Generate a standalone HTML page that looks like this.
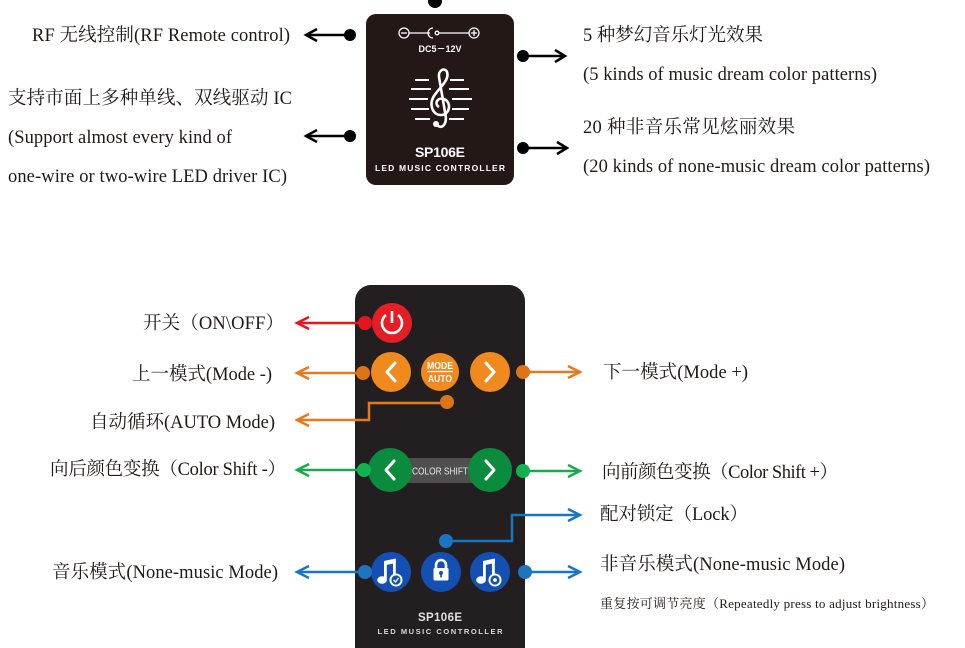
<!DOCTYPE html>
<html><head><meta charset="utf-8">
<style>
html,body{margin:0;padding:0;background:#fff;width:965px;height:648px;overflow:hidden;}
svg{display:block;}
.t{font-family:"Liberation Serif","Noto Serif CJK SC",serif;font-size:18.5px;fill:#1e1a18;}
.s{font-family:"Liberation Sans","Noto Sans CJK SC",sans-serif;font-weight:bold;fill:#fff;}
</style></head>
<body>
<svg width="965" height="648" viewBox="0 0 965 648" xmlns="http://www.w3.org/2000/svg">
<rect width="965" height="648" fill="#fff"/>

<!-- ===== TOP CONTROLLER BOX ===== -->
<circle cx="435" cy="1" r="7" fill="#000"/>
<rect x="366" y="14" width="148" height="171" rx="10" fill="#231815"/>
<g stroke="#fff" stroke-width="1.3" fill="none">
  <circle cx="404" cy="33" r="5"/><line x1="401" y1="33" x2="407" y2="33"/>
  <line x1="409" y1="33" x2="430" y2="33"/>
  <path d="M433 28 A5 5 0 0 0 433 38"/>
  <circle cx="437" cy="33" r="1.8"/>
  <line x1="439" y1="33" x2="469" y2="33"/>
  <circle cx="474" cy="33" r="5"/><line x1="471" y1="33" x2="477" y2="33"/><line x1="474" y1="30" x2="474" y2="36"/>
</g>
<text class="s" x="440" y="52" font-size="9" text-anchor="middle">DC5－12V</text>
<g stroke="#fff" stroke-width="2">
  <line x1="415" y1="80" x2="429" y2="80"/><line x1="450" y1="80" x2="464" y2="80"/>
  <line x1="411" y1="89" x2="431" y2="89"/><line x1="449" y1="89" x2="469" y2="89"/>
  <line x1="409" y1="99" x2="428" y2="99"/><line x1="452" y1="99" x2="472" y2="99"/>
  <line x1="411" y1="109" x2="429" y2="109"/><line x1="452" y1="109" x2="469" y2="109"/>
  <line x1="415" y1="119" x2="430" y2="119"/><line x1="449" y1="119" x2="464" y2="119"/>
</g>
<path d="M437 125 C442 130 448 124 445 112 L439 77 C438 70 445 67 447 72 C450 80 439 88 434 96 C429 104 432 115 441 115 C450 115 452 102 444 99 C437 97 434 104 439 107" stroke="#fff" stroke-width="2.6" fill="none"/>
<circle cx="436" cy="124" r="3" fill="#fff"/>
<text class="s" x="440" y="157" font-size="14" text-anchor="middle" textLength="50">SP106E</text>
<text class="s" x="440" y="171" font-size="8.5" text-anchor="middle" textLength="130" lengthAdjust="spacing">LED  MUSIC CONTROLLER</text>

<g stroke="#000" stroke-width="2.5" fill="none">
  <line x1="307" y1="35" x2="350" y2="35"/><polyline points="317,29 306,35 317,41"/>
  <line x1="307" y1="136" x2="350" y2="136"/><polyline points="317,130 306,136 317,142"/>
  <line x1="523" y1="56" x2="564" y2="56"/><polyline points="555,50 565,56 555,62"/>
  <line x1="523" y1="148" x2="566" y2="148"/><polyline points="557,142 567,148 557,154"/>
</g>
<g fill="#000">
  <circle cx="350" cy="35" r="6"/><circle cx="350" cy="136" r="6"/>
  <circle cx="523" cy="56" r="6"/><circle cx="523" cy="148" r="6"/>
</g>

<text class="t" x="32" y="41" textLength="258">RF 无线控制(RF Remote control)</text>
<text class="t" x="8" y="104" textLength="284">支持市面上多种单线、双线驱动 IC</text>
<text class="t" x="8" y="143" textLength="224">(Support almost every kind of</text>
<text class="t" x="8" y="182" textLength="279">one-wire or two-wire LED driver IC)</text>
<text class="t" x="583" y="41" textLength="180">5 种梦幻音乐灯光效果</text>
<text class="t" x="583" y="80" textLength="294">(5 kinds of music dream color patterns)</text>
<text class="t" x="583" y="133" textLength="212">20 种非音乐常见炫丽效果</text>
<text class="t" x="583" y="172" textLength="347">(20 kinds of none-music dream color patterns)</text>

<!-- ===== REMOTE ===== -->
<path d="M355 648 V301 A16 16 0 0 1 371 285 H509 A16 16 0 0 1 525 301 V648 Z" fill="#231f20"/>

<line x1="298" y1="323" x2="364" y2="323" stroke="#e8141b" stroke-width="2.5"/>
<polyline points="309,317 297,323 309,329" stroke="#e8141b" stroke-width="2.5" fill="none"/>
<circle cx="392" cy="323" r="20" fill="#e31e24"/>
<circle cx="365" cy="323" r="7" fill="#e8141b"/>
<path d="M386 315 A10 10 0 1 0 398 315" stroke="#fff" stroke-width="2.6" fill="none"/>
<line x1="392" y1="311" x2="392" y2="323" stroke="#fff" stroke-width="2.6"/>

<g stroke="#e8781c" stroke-width="2.5" fill="none">
  <line x1="298" y1="373" x2="363" y2="373"/><polyline points="309,367 297,373 309,379"/>
  <polyline points="447,403 369,403 369,420 298,420"/><polyline points="309,414 297,420 309,426"/>
  <line x1="523" y1="372" x2="579" y2="372"/><polyline points="568,366 580,372 568,378"/>
</g>
<circle cx="391" cy="372" r="20" fill="#f0891e"/>
<circle cx="440" cy="372" r="19" fill="#f0891e"/>
<circle cx="490" cy="372" r="20" fill="#f0891e"/>
<circle cx="363" cy="373" r="7" fill="#df7416"/>
<circle cx="523" cy="372" r="7" fill="#df7416"/>
<circle cx="447" cy="402" r="7" fill="#df7416"/>
<g stroke="#fff" stroke-width="3" fill="none" stroke-linecap="round" stroke-linejoin="round">
  <polyline points="395,363 387,372 395,381"/>
  <polyline points="486,363 494,372 486,381"/>
</g>
<text class="s" x="440" y="369" font-size="10" text-anchor="middle" textLength="26" lengthAdjust="spacingAndGlyphs">MODE</text>
<line x1="427" y1="371.5" x2="453" y2="371.5" stroke="#fff" stroke-width="1.2"/>
<text class="s" x="440" y="382" font-size="10" text-anchor="middle" textLength="24" lengthAdjust="spacingAndGlyphs">AUTO</text>

<g stroke="#19aa4b" stroke-width="2.5" fill="none">
  <line x1="298" y1="470" x2="364" y2="470"/><polyline points="309,464 297,470 309,476"/>
  <line x1="523" y1="471" x2="579" y2="471"/><polyline points="568,465 580,471 568,477"/>
</g>
<rect x="405" y="458" width="70" height="25" fill="#4f4f4f"/>
<text x="440" y="474.5" font-family="Liberation Sans Narrow,Liberation Sans,sans-serif" font-size="10" fill="#e6e6e6" text-anchor="middle" textLength="56" lengthAdjust="spacingAndGlyphs">COLOR SHIFT</text>
<circle cx="390" cy="470" r="22" fill="#0a8b3d"/>
<circle cx="490" cy="470" r="22" fill="#0a8b3d"/>
<circle cx="364" cy="470" r="7" fill="#10b350"/>
<circle cx="523" cy="471" r="7" fill="#10b350"/>
<g stroke="#fff" stroke-width="3" fill="none" stroke-linecap="round" stroke-linejoin="round">
  <polyline points="394,461 386,470 394,479"/>
  <polyline points="486,461 494,470 486,479"/>
</g>

<g stroke="#1877c2" stroke-width="2.5" fill="none">
  <line x1="298" y1="572" x2="365" y2="572"/><polyline points="309,566 297,572 309,578"/>
  <polyline points="446,541 512,541 512,515 579,515"/><polyline points="568,509 580,515 568,521"/>
  <line x1="525" y1="572" x2="579" y2="572"/><polyline points="568,566 580,572 568,578"/>
</g>
<circle cx="391" cy="572" r="20" fill="#1450b4"/>
<circle cx="441" cy="572" r="20" fill="#1450b4"/>
<circle cx="490" cy="572" r="20" fill="#1450b4"/>
<circle cx="365" cy="572" r="7" fill="#1b75c0"/>
<circle cx="525" cy="572" r="7" fill="#1b75c0"/>
<circle cx="446" cy="541" r="7" fill="#1b75c0"/>
<g fill="#fff">
  <rect x="384" y="561" width="2.8" height="19"/>
  <rect x="393" y="559" width="2.8" height="16"/>
  <polygon points="384,561 395.8,558.5 395.8,563 384,565.5"/>
  <ellipse cx="382" cy="580" rx="4.8" ry="3.8"/>
</g>
<circle cx="396" cy="580" r="6.5" fill="#fff"/>
<circle cx="396" cy="580" r="4.6" fill="#1450b4"/>
<polyline points="393.5,580 395.5,582 398.5,578" stroke="#fff" stroke-width="1.3" fill="none"/>
<path d="M436 569 V565 A5 5 0 0 1 446 565 V569" stroke="#fff" stroke-width="2.6" fill="none"/>
<rect x="433.5" y="568" width="15" height="12.5" rx="1.5" fill="#fff"/>
<circle cx="441" cy="573" r="2" fill="#1450b4"/>
<rect x="440.2" y="573" width="1.6" height="4.5" fill="#1450b4"/>
<g fill="#fff">
  <rect x="483" y="561" width="2.8" height="19"/>
  <rect x="492" y="559" width="2.8" height="16"/>
  <polygon points="483,561 494.8,558.5 494.8,563 483,565.5"/>
  <ellipse cx="481" cy="580" rx="4.8" ry="3.8"/>
</g>
<circle cx="495" cy="580" r="6.5" fill="#fff"/>
<circle cx="495" cy="580" r="4.6" fill="#1450b4"/>
<circle cx="495" cy="580" r="1.9" fill="#fff"/>

<text x="440" y="621" font-family="Liberation Sans,sans-serif" font-weight="bold" font-size="11.5" fill="#e0e0e0" text-anchor="middle" textLength="44">SP106E</text>
<text x="440" y="634" font-family="Liberation Sans,sans-serif" font-weight="bold" font-size="7.5" fill="#d8d8d8" text-anchor="middle" textLength="125" lengthAdjust="spacing">LED MUSIC CONTROLLER</text>

<text class="t" x="143" y="329" textLength="141">开关（ON\OFF）</text>
<text class="t" x="132" y="380" textLength="140">上一模式(Mode -)</text>
<text class="t" x="90" y="428" textLength="185">自动循环(AUTO Mode)</text>
<text class="t" x="50" y="475" textLength="236">向后颜色变换（Color Shift -）</text>
<text class="t" x="52" y="578" textLength="226">音乐模式(None-music Mode)</text>
<text class="t" x="603" y="378" textLength="145">下一模式(Mode +)</text>
<text class="t" x="602" y="478" textLength="236">向前颜色变换（Color Shift +）</text>
<text class="t" x="600" y="520" textLength="148">配对锁定（Lock）</text>
<text class="t" x="600" y="570" textLength="245">非音乐模式(None-music Mode)</text>
<text class="t" x="600" y="608" textLength="334" style="font-size:13px">重复按可调节亮度（Repeatedly press to adjust brightness）</text>
</svg>
</body></html>
